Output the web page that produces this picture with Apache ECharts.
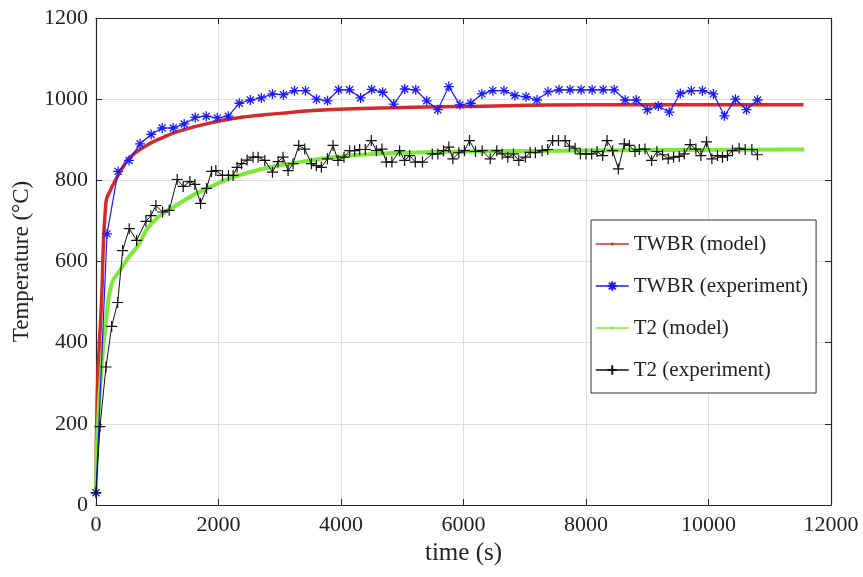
<!DOCTYPE html>
<html>
<head>
<meta charset="utf-8">
<script src="https://cdn.jsdelivr.net/npm/echarts@6/dist/echarts.min.js"></script>
<style>
  html, body { margin: 0; padding: 0; background: #fff; }
  #chart { width: 863px; height: 577px; }
</style>
</head>
<body>
<div id="chart"></div>
<script>
  // TWBR (model)
  const twbrModelTime = [0, 20, 90, 160, 240, 330, 450, 554, 826, 1098, 1370, 1913, 2457, 3000, 3544, 4631, 5935, 8104, 10000, 11550];
  const twbrModelTemp = [30, 270, 500, 744, 777, 804, 835, 857, 886, 906, 922, 943, 957, 965, 972, 978, 982, 986, 986, 986];

  // TWBR (experiment)
  const twbrExpTime = [0, 180, 360, 540, 720, 900, 1080, 1260, 1440, 1620, 1800, 1980, 2160, 2340, 2520, 2700, 2880, 3060, 3240, 3420,
    3600, 3780, 3960, 4140, 4320, 4500, 4680, 4860, 5040, 5220, 5400, 5580, 5760, 5940, 6120, 6300, 6480, 6660, 6840, 7020,
    7200, 7380, 7560, 7740, 7920, 8100, 8280, 8460, 8640, 8820, 9000, 9180, 9360, 9540, 9720, 9900, 10080, 10260, 10440, 10620, 10800];
  const twbrExpTemp = [30, 668, 822, 849, 890, 913, 929, 929, 939, 955, 958, 954, 958, 990, 998, 1003, 1013, 1011, 1021, 1021,
    1000, 996, 1023, 1023, 1003, 1024, 1017, 988, 1025, 1023, 996, 974, 1031, 986, 990, 1013, 1021, 1021, 1009, 1006,
    998, 1018, 1023, 1023, 1023, 1023, 1023, 1023, 998, 998, 974, 983, 968, 1014, 1021, 1021, 1013, 959, 1000, 974, 998];

  // T2 (model)
  const t2ModelTime = [0, 20, 90, 174, 256, 391, 554, 690, 880, 1261, 1968, 2511, 3163, 4169, 5364, 7566, 9500, 11560];
  const t2ModelTemp = [30, 160, 340, 467, 545, 578, 615, 640, 689, 734, 791, 820, 841, 861, 869, 873, 875, 876];

  // T2 (experiment)
  const t2ExpTime = [0, 65, 163, 256, 354, 435, 543, 663, 815, 897, 978, 1087, 1195, 1326, 1424, 1533, 1614, 1707, 1805, 1886,
    1957, 2065, 2163, 2239, 2304, 2375, 2467, 2565, 2647, 2756, 2881, 2973, 3054, 3136, 3217, 3310, 3408, 3517, 3598, 3680,
    3778, 3870, 3951, 4049, 4141, 4223, 4305, 4397, 4495, 4577, 4669, 4740, 4831, 4957, 5038, 5120, 5213, 5330, 5490, 5581,
    5674, 5761, 5826, 5924, 6016, 6098, 6196, 6305, 6436, 6543, 6631, 6723, 6816, 6902, 7011, 7088, 7174, 7283, 7375, 7456,
    7550, 7659, 7729, 7822, 7908, 8001, 8093, 8180, 8272, 8344, 8435, 8528, 8625, 8707, 8800, 8870, 8963, 9071, 9158, 9250,
    9343, 9430, 9522, 9604, 9700, 9794, 9876, 9968, 10055, 10147, 10228, 10310, 10391, 10500, 10599, 10708, 10799];
  const t2ExpTemp = [30, 193, 340, 440, 499, 627, 681, 652, 699, 713, 738, 722, 726, 802, 785, 797, 790, 743, 780, 822,
    824, 812, 812, 812, 832, 841, 850, 857, 857, 849, 820, 846, 857, 824, 841, 886, 877, 841, 836, 832,
    853, 886, 849, 857, 873, 873, 876, 876, 898, 873, 877, 845, 845, 873, 849, 861, 845, 845, 865, 865,
    873, 882, 853, 868, 873, 898, 871, 873, 853, 873, 865, 857, 865, 849, 857, 869, 868, 873, 876, 898,
    898, 898, 884, 879, 865, 865, 865, 871, 861, 898, 873, 828, 890, 886, 871, 876, 877, 849, 871, 863,
    853, 857, 859, 865, 888, 877, 861, 895, 853, 861, 857, 861, 873, 879, 876, 876, 863];

  const xTicks = { min: 0, max: 12000, interval: 2000 };
  const yTicks = { min: 0, max: 1200, interval: 200 };

  const font = 'Liberation Serif';
  const axisColor = '#262626';
  // marker shapes: the leading moves only widen the box so the dot stays small
  const dot = 'path://M0,0 M10,10 M3.6,3.6 L6.4,3.6 L6.4,6.4 L3.6,6.4 Z';
  const asterisk = 'path://M5,0 L5,10 M0,5 L10,5 M1.5,1.5 L8.5,8.5 M1.5,8.5 L8.5,1.5';
  const plus = 'path://M5,0 L5,10 M0,5 L10,5';

  function pairs(xs, ys) {
    return xs.map((x, i) => [x, ys[i]]);
  }

  const chart = echarts.init(document.getElementById('chart'), null, { renderer: 'canvas' });

  const boxAxis = {
    axisLine: { show: true, onZero: false, lineStyle: { color: axisColor, width: 1.2 } },
    axisTick: { show: true, inside: true, length: 6, lineStyle: { color: axisColor } },
    axisLabel: { show: false },
    splitLine: { show: false }
  };

  const option = {
    animation: false,
    backgroundColor: '#fff',
    grid: { left: 96, right: 32, top: 18, bottom: 72 },
    xAxis: [{
      type: 'value',
      min: xTicks.min, max: xTicks.max, interval: xTicks.interval,
      name: 'time (s)',
      nameLocation: 'middle',
      nameGap: 35,
      nameTextStyle: { fontFamily: font, fontSize: 25, color: '#222' },
      axisLine: { show: true, onZero: false, lineStyle: { color: axisColor, width: 1.2 } },
      axisTick: { show: true, inside: true, length: 6, lineStyle: { color: axisColor } },
      axisLabel: { fontFamily: font, fontSize: 22, color: '#222', margin: 9, formatter: v => String(v) },
      splitLine: { show: true, lineStyle: { color: '#dedede', width: 1 } }
    }, Object.assign({
      type: 'value', position: 'top',
      min: xTicks.min, max: xTicks.max, interval: xTicks.interval
    }, boxAxis)],
    yAxis: [{
      type: 'value',
      min: yTicks.min, max: yTicks.max, interval: yTicks.interval,
      name: 'Temperature (°C)',
      nameLocation: 'middle',
      nameGap: 63,
      nameTextStyle: { fontFamily: font, fontSize: 23, color: '#222' },
      axisLine: { show: true, onZero: false, lineStyle: { color: axisColor, width: 1.2 } },
      axisTick: { show: true, inside: true, length: 6, lineStyle: { color: axisColor } },
      axisLabel: { fontFamily: font, fontSize: 22, color: '#222', margin: 8, formatter: v => String(v) },
      splitLine: { show: true, lineStyle: { color: '#dedede', width: 1 } }
    }, Object.assign({
      type: 'value', position: 'right',
      min: yTicks.min, max: yTicks.max, interval: yTicks.interval
    }, boxAxis)],
    legend: {
      orient: 'vertical',
      left: 591,
      top: 220,
      padding: [12, 8, 11, 4],
      itemGap: 18,
      itemWidth: 33,
      itemHeight: 12,
      backgroundColor: '#fff',
      borderColor: '#333',
      borderWidth: 1,
      lineStyle: { width: 1.5 },
      textStyle: { fontFamily: font, fontSize: 21, color: '#222', lineHeight: 24 },
      data: ['TWBR (model)', 'TWBR (experiment)', 'T2 (model)', 'T2 (experiment)']
    },
    series: [
      {
        name: 'TWBR (model)',
        type: 'line',
        data: pairs(twbrModelTime, twbrModelTemp),
        smooth: 0.5,
        symbol: dot,
        symbolSize: 10,
        showSymbol: false,
        itemStyle: { color: '#d42a2a' },
        lineStyle: { color: '#d42a2a', width: 3.5 },
        z: 2
      },
      {
        name: 'TWBR (experiment)',
        type: 'line',
        data: pairs(twbrExpTime, twbrExpTemp),
        symbol: asterisk,
        symbolSize: 10,
        itemStyle: { color: 'rgba(0,0,0,0)', borderColor: '#1a1aff', borderWidth: 1.3 },
        lineStyle: { color: '#1a1aff', width: 1.2 },
        z: 3
      },
      {
        name: 'T2 (model)',
        type: 'line',
        data: pairs(t2ModelTime, t2ModelTemp),
        smooth: 0.5,
        symbol: dot,
        symbolSize: 10,
        showSymbol: false,
        itemStyle: { color: '#7ee83a' },
        lineStyle: { color: '#7ee83a', width: 4 },
        z: 2
      },
      {
        name: 'T2 (experiment)',
        type: 'line',
        data: pairs(t2ExpTime, t2ExpTemp),
        symbol: plus,
        symbolSize: 11,
        itemStyle: { color: 'rgba(0,0,0,0)', borderColor: '#111', borderWidth: 1.2 },
        lineStyle: { color: '#111', width: 1 },
        z: 4
      }
    ]
  };

  chart.setOption(option);
</script>
</body>
</html>
